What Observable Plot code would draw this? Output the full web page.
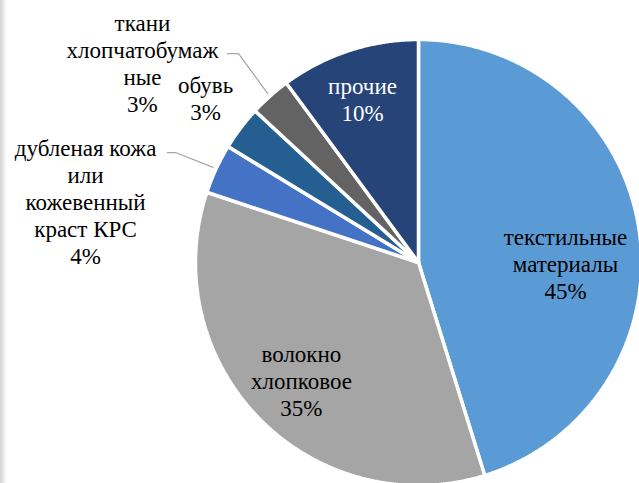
<!DOCTYPE html>
<html><head><meta charset="utf-8">
<script src="https://cdn.jsdelivr.net/npm/d3@7"></script>
<script src="https://cdn.jsdelivr.net/npm/@observablehq/plot@0.6"></script>
<style>
html,body{margin:0;padding:0;background:#fff;}
#chart{position:relative;width:639px;height:483px;overflow:hidden;background:#fff;}
#shade{position:absolute;left:0;top:0;width:7px;height:483px;background:linear-gradient(to right,#d2d2d2,#fff);z-index:2;}
#chart svg text{font-family:"Liberation Serif","Times New Roman",serif !important;}
</style></head><body><div id="chart"><div id="shade"></div></div>
<script>
// ---- data ----
const categories = ["текстильные материалы", "волокно хлопковое", "дубленая кожа или кожевенный краст КРС", "обувь", "ткани хлопчатобумажные", "прочие"];
const labelTexts = ["текстильные\nматериалы", "волокно\nхлопковое", "дубленая кожа\nили\nкожевенный\nкраст КРС", "обувь", "ткани\nхлопчатобумаж\nные", "прочие"];
const values = [45.2, 34.9, 3.6, 3.2, 3.0, 10.1];
const colors = ["#5B9BD5", "#A5A5A5", "#4472C4", "#255E91", "#636363", "#264478"];

// ---- layout (data units of a unit-circle pie) ----
const labelLayout = {
  "текстильные материалы": {x: 0.659, y: -0.004, fill: "#000"},
  "волокно хлопковое": {x: -0.525, y: -0.527, fill: "#000"},
  "дубленая кожа или кожевенный краст КРС": {x: -1.493, y: 0.275, fill: "#000"},
  "обувь": {x: -0.955, y: 0.737, fill: "#000"},
  "ткани хлопчатобумажные": {x: -1.238, y: 0.895, fill: "#000"},
  "прочие": {x: -0.251, y: 0.733, fill: "#fff"}
};
const leaderLayout = {
  "дубленая кожа или кожевенный краст КРС": {elbow: [-1.090, 0.493], end: [-1.126, 0.493]},
  "ткани хлопчатобумажные": {elbow: [-0.807, 0.937], end: [-0.857, 0.937]}
};

const total = d3.sum(values);
const arcs = d3.pie().sort(null).value(d => d)(values);
const slicePts = [];
arcs.forEach((p, i) => {
  const name = categories[i];
  const n = Math.max(2, Math.ceil((p.endAngle - p.startAngle) / 0.005));
  slicePts.push({name, x: 0, y: 0});
  for (let k = 0; k <= n; k++) {
    const a = p.startAngle + (p.endAngle - p.startAngle) * k / n;
    slicePts.push({name, x: Math.sin(a), y: Math.cos(a)});
  }
  slicePts.push({name, x: 0, y: 0});
});

const labels = categories.map((c, i) => ({
  name: c,
  text: labelTexts[i] + "\n" + Math.round(values[i] / total * 100) + "%",
  ...labelLayout[c]
}));

const leaders = [];
arcs.forEach((p, i) => {
  const L = leaderLayout[categories[i]];
  if (!L) return;
  const a = (p.startAngle + p.endAngle) / 2;
  const r = 1.015;
  leaders.push({name: categories[i], x: Math.sin(a) * r, y: Math.cos(a) * r});
  leaders.push({name: categories[i], x: L.elbow[0], y: L.elbow[1]});
  leaders.push({name: categories[i], x: L.end[0], y: L.end[1]});
});

const chart = Plot.plot({
  width: 639,
  height: 483,
  margin: 0,
  style: {background: "#fff", overflow: "hidden"},
  x: {domain: [-1, 1], range: [195, 641], axis: null},
  y: {domain: [-1, 1], range: [485, 39], axis: null},
  color: {domain: categories, range: colors},
  marks: [
    Plot.line(slicePts, {x: "x", y: "y", z: "name", fill: "name", stroke: "#fff", strokeWidth: 3.5, strokeLinejoin: "miter", curve: "linear"}),
    Plot.line(leaders, {x: "x", y: "y", z: "name", stroke: "#a6a6a6", strokeWidth: 1.2}),
    Plot.text(labels, {x: "x", y: "y", text: "text", fill: d => d.fill, fontSize: 23, fontFamily: "Liberation Serif", lineHeight: 1.17, lineAnchor: "middle", textAnchor: "middle"})
  ]
});
document.getElementById("chart").appendChild(chart);
</script>
</body></html>
